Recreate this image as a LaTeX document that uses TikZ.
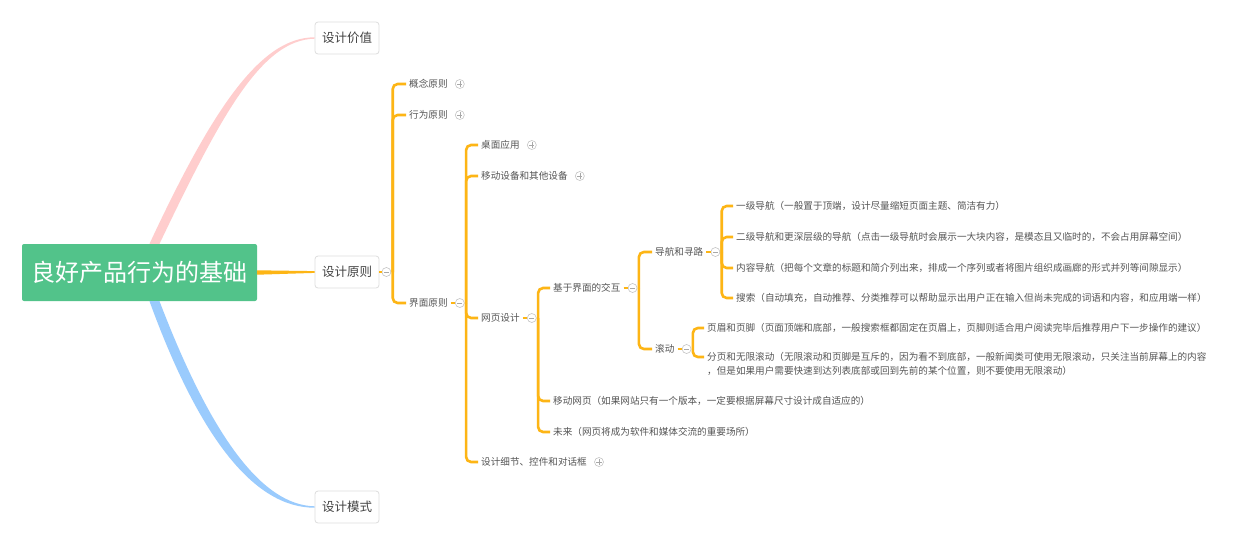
\documentclass[tikz,border=0pt]{standalone}
\usepackage{fontspec}
\newfontfamily\cjk{Noto Sans CJK SC}
\usetikzlibrary{calc}
\definecolor{rootgreen}{HTML}{52C38A}
\definecolor{amber}{HTML}{FDB515}
\definecolor{pinkc}{HTML}{FFCDCD}
\definecolor{bluec}{HTML}{9ACBFD}
\definecolor{txt}{HTML}{555555}
\definecolor{boxtxt}{HTML}{444444}
\definecolor{boxline}{HTML}{DDDDDD}
\definecolor{circ}{HTML}{C4C4C4}
\definecolor{signc}{HTML}{A8A8A8}
\tikzset{
  rootbox/.style={fill=rootgreen, rounded corners=2pt, minimum width=235pt, minimum height=57pt, inner sep=0pt, text=white, font=\cjk\fontsize{24}{28}\selectfont},
  topicbox/.style={draw=boxline, line width=0.8pt, fill=white, rounded corners=3pt, minimum width=64pt, minimum height=32pt, inner sep=0pt, text=boxtxt, font=\cjk\fontsize{12.5}{15}\selectfont},
  item/.style={anchor=west, inner xsep=3pt, inner ysep=1pt, text=txt, font=\cjk\fontsize{9.6}{14}\selectfont},
  toggle/.style={circle, draw=circ, fill=white, line width=0.6pt, minimum size=9pt, inner sep=0pt},
  minusc/.style={toggle, path picture={\draw[signc, line width=0.6pt] ([xshift=-2.6pt]path picture bounding box.center) -- ([xshift=2.6pt]path picture bounding box.center);}},
  plusc/.style={toggle, path picture={\draw[signc, line width=0.6pt] ([xshift=-2.6pt]path picture bounding box.center) -- ([xshift=2.6pt]path picture bounding box.center) ([yshift=-2.6pt]path picture bounding box.center) -- ([yshift=2.6pt]path picture bounding box.center);}},
  bracket/.style={draw=amber, line width=2.6pt, rounded corners=5pt},
  stub/.style={draw=amber, line width=2pt},
}
\begin{document}
\begin{tikzpicture}[x=1pt,y=-1pt]
\useasboundingbox (0,0) rectangle (1240,547);
\fill[white] (0,0) rectangle (1240,547);

% main topics
\node[rootbox] (root) at (139.5,272.5) {良好产品行为的基础};
\node[topicbox] (b1) at (347,38) {设计价值};
\node[topicbox] (b2) at (347,272) {设计原则};
\node[topicbox] (b3) at (347,507) {设计模式};

% tapered branches
\fill[pinkc] ([xshift=10pt]root.north) .. controls (212,110) and (260,37.3) .. ([yshift=0.7pt]b1.west)
  -- ([yshift=-0.7pt]b1.west) .. controls (262,39.8) and (222,113) .. ([xshift=20pt]root.north) -- cycle;
\fill[bluec] ([xshift=10pt]root.south) .. controls (200,440) and (255,507.7) .. ([yshift=-0.7pt]b3.west)
  -- ([yshift=0.7pt]b3.west) .. controls (262,505.2) and (211,436) .. ([xshift=20pt]root.south) -- cycle;
\fill[amber] ([yshift=2.2pt]root.east) -- ([yshift=0.9pt]b2.west) -- ([yshift=-0.9pt]b2.west) -- ([yshift=-2.2pt]root.east) -- cycle;

\node[minusc] (c1) at ([xshift=7pt]b2.east) {};
\draw[stub] (b2.east) -- (c1.west);

% level 1
\node[item] (n11) at (406,84) {概念原则};
\node[item] (n12) at (406,115) {行为原则};
\node[item] (n13) at (406,303) {界面原则};
\node[plusc] (p11) at ([xshift=9pt]n11.east) {};
\node[plusc] (p12) at ([xshift=9pt]n12.east) {};
\node[minusc] (c13) at ([xshift=9pt]n13.east) {};
\draw[stub] (n13.east) -- (c13.west);
\foreach \n in {n11,n12,n13} \draw[bracket] ([xshift=1.5pt]c1.east) |- (\n.west);

% level 2
\node[item] (n21) at (478,145) {桌面应用};
\node[item] (n22) at (478,176) {移动设备和其他设备};
\node[item] (n23) at (478,318) {网页设计};
\node[item] (n24) at (478,462) {设计细节、控件和对话框};
\node[plusc] (p21) at ([xshift=9pt]n21.east) {};
\node[plusc] (p22) at ([xshift=9pt]n22.east) {};
\node[minusc] (c23) at ([xshift=9pt]n23.east) {};
\node[plusc] (p24) at ([xshift=9pt]n24.east) {};
\draw[stub] (n23.east) -- (c23.west);
\foreach \n in {n21,n22,n23,n24} \draw[bracket] ([xshift=1.5pt]c13.east) |- (\n.west);

% level 3
\node[item] (n31) at (550,288) {基于界面的交互};
\node[item] (n32) at (550,401) {移动网页（如果网站只有一个版本，一定要根据屏幕尺寸设计成自适应的）};
\node[item] (n33) at (550,432) {未来（网页将成为软件和媒体交流的重要场所）};
\node[minusc] (c31) at ([xshift=9pt]n31.east) {};
\draw[stub] (n31.east) -- (c31.west);
\foreach \n in {n31,n32,n33} \draw[bracket] ([xshift=1.5pt]c23.east) |- (\n.west);

% level 4
\node[item] (n41) at (652,252) {导航和寻路};
\node[item] (n42) at (652,349) {滚动};
\node[minusc] (c41) at ([xshift=9pt]n41.east) {};
\node[minusc] (c42) at ([xshift=9pt]n42.east) {};
\draw[stub] (n41.east) -- (c41.west);
\draw[stub] (n42.east) -- (c42.west);
\foreach \n in {n41,n42} \draw[bracket] ([xshift=1.5pt]c31.east) |- (\n.west);

% level 5: navigation
\node[item] (n51) at (733,206) {一级导航（一般置于顶端，设计尽量缩短页面主题、简洁有力）};
\node[item] (n52) at (733,237) {二级导航和更深层级的导航（点击一级导航时会展示一大块内容，是模态且又临时的，不会占用屏幕空间）};
\node[item] (n53) at (733,268) {内容导航（把每个文章的标题和简介列出来，排成一个序列或者将图片组织成画廊的形式并列等间隙显示）};
\node[item] (n54) at (733,298) {搜索（自动填充，自动推荐、分类推荐可以帮助显示出用户正在输入但尚未完成的词语和内容，和应用端一样）};
\foreach \n in {n51,n52,n53,n54} \draw[bracket] ([xshift=1.5pt]c41.east) |- (\n.west);

% level 5: scrolling
\node[item] (n61) at (704,328) {页眉和页脚（页面顶端和底部，一般搜索框都固定在页眉上，页脚则适合用户阅读完毕后推荐用户下一步操作的建议）};
\node[item, anchor=north west, align=left] (n62) at (704,351) {分页和无限滚动（无限滚动和页脚是互斥的，因为看不到底部，一般新闻类可使用无限滚动，只关注当前屏幕上的内容\\，但是如果用户需要快速到达列表底部或回到先前的某个位置，则不要使用无限滚动）};
\coordinate (n62a) at ([yshift=-6pt]n62.north west);
\draw[bracket] ([xshift=1.5pt]c42.east) |- (n61.west);
\draw[bracket] ([xshift=1.5pt]c42.east) |- (n62a);
\end{tikzpicture}
\end{document}
